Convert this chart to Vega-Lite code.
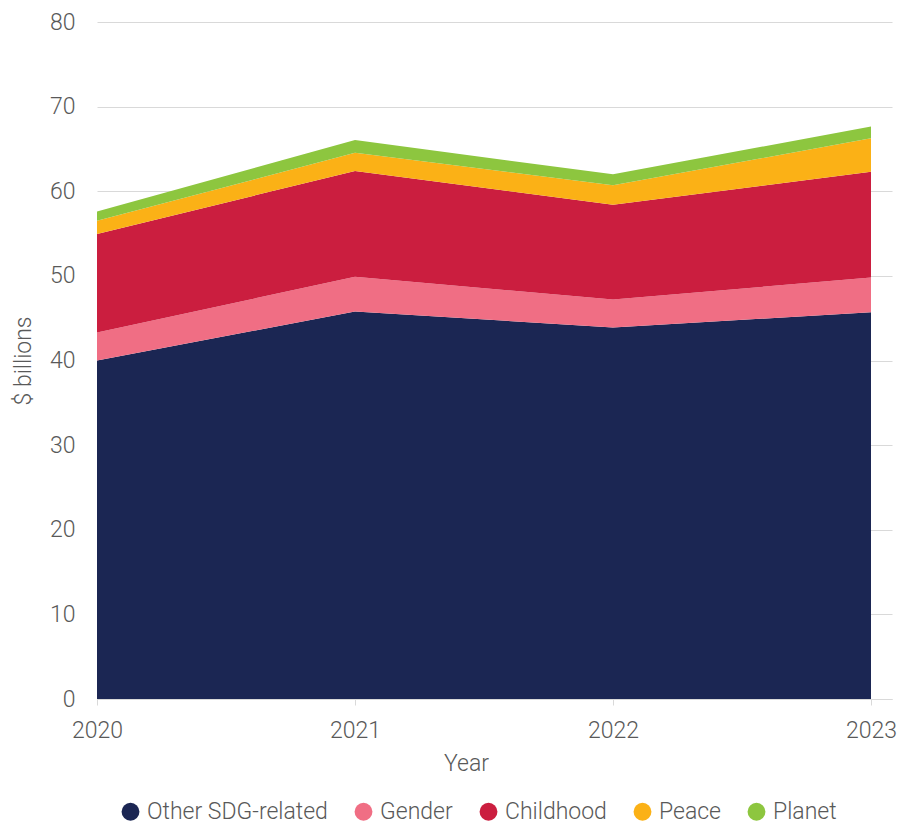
{
  "$schema": "https://vega.github.io/schema/vega-lite/v6.json",
  "autosize": {"type": "none"},
  "width": 795,
  "height": 677,
  "padding": {"left": 97, "top": 22, "right": 7, "bottom": 127},
  "background": "white",
  "config": {
    "view": {"stroke": null},
    "font": "Roboto",
    "axis": {"labelFont": "Roboto", "titleFont": "Roboto", "labelColor": "#595959", "titleColor": "#595959", "labelFontWeight": 300, "titleFontWeight": 300, "labelFontSize": 23, "titleFontSize": 23},
    "legend": {"labelFont": "Roboto", "labelColor": "#595959", "labelFontSize": 23, "labelFontWeight": 300, "labelLimit": 400}
  },
  "data": {
    "values": [
      {"year": 2020, "category": "Other SDG-related", "value": 40.0, "ord": 1},
      {"year": 2020, "category": "Gender", "value": 3.3, "ord": 2},
      {"year": 2020, "category": "Childhood", "value": 11.65, "ord": 3},
      {"year": 2020, "category": "Peace", "value": 1.55, "ord": 4},
      {"year": 2020, "category": "Planet", "value": 1.1, "ord": 5},
      {"year": 2021, "category": "Other SDG-related", "value": 45.8, "ord": 1},
      {"year": 2021, "category": "Gender", "value": 4.1, "ord": 2},
      {"year": 2021, "category": "Childhood", "value": 12.5, "ord": 3},
      {"year": 2021, "category": "Peace", "value": 2.15, "ord": 4},
      {"year": 2021, "category": "Planet", "value": 1.5, "ord": 5},
      {"year": 2022, "category": "Other SDG-related", "value": 43.9, "ord": 1},
      {"year": 2022, "category": "Gender", "value": 3.3, "ord": 2},
      {"year": 2022, "category": "Childhood", "value": 11.2, "ord": 3},
      {"year": 2022, "category": "Peace", "value": 2.3, "ord": 4},
      {"year": 2022, "category": "Planet", "value": 1.3, "ord": 5},
      {"year": 2023, "category": "Other SDG-related", "value": 45.7, "ord": 1},
      {"year": 2023, "category": "Gender", "value": 4.1, "ord": 2},
      {"year": 2023, "category": "Childhood", "value": 12.5, "ord": 3},
      {"year": 2023, "category": "Peace", "value": 3.95, "ord": 4},
      {"year": 2023, "category": "Planet", "value": 1.4, "ord": 5}
    ]
  },
  "mark": {"type": "area", "interpolate": "linear"},
  "encoding": {
    "x": {
      "field": "year", "type": "quantitative",
      "scale": {"domain": [2020, 2023.0814], "nice": false, "zero": false},
      "axis": {"values": [2020, 2021, 2022, 2023], "format": "d", "title": "Year", "titleX": 369, "grid": false, "domainColor": "#d9d9d9", "tickColor": "#d9d9d9", "tickSize": 6, "labelPadding": 14, "titlePadding": 10, "labelFlush": false}
    },
    "y": {
      "field": "value", "type": "quantitative", "stack": "zero",
      "scale": {"domain": [0, 80], "nice": false},
      "axis": {"values": [0, 10, 20, 30, 40, 50, 60, 70, 80], "title": "$ billions", "domain": false, "ticks": false, "gridColor": "#d9d9d9", "labelPadding": 22, "titlePadding": 14}
    },
    "color": {
      "field": "category", "type": "nominal",
      "scale": {"domain": ["Other SDG-related", "Gender", "Childhood", "Peace", "Planet"], "range": ["#1b2653", "#f06e84", "#cb1e3f", "#fbb116", "#8dc63f"]},
      "legend": {"title": null, "orient": "none", "legendX": 22, "legendY": 778, "direction": "horizontal", "symbolType": "circle", "symbolSize": 320, "symbolOpacity": 1, "columnPadding": 24, "labelOffset": 5, "labelLimit": 400}
    },
    "order": {"field": "ord", "type": "quantitative", "sort": "ascending"}
  }
}
